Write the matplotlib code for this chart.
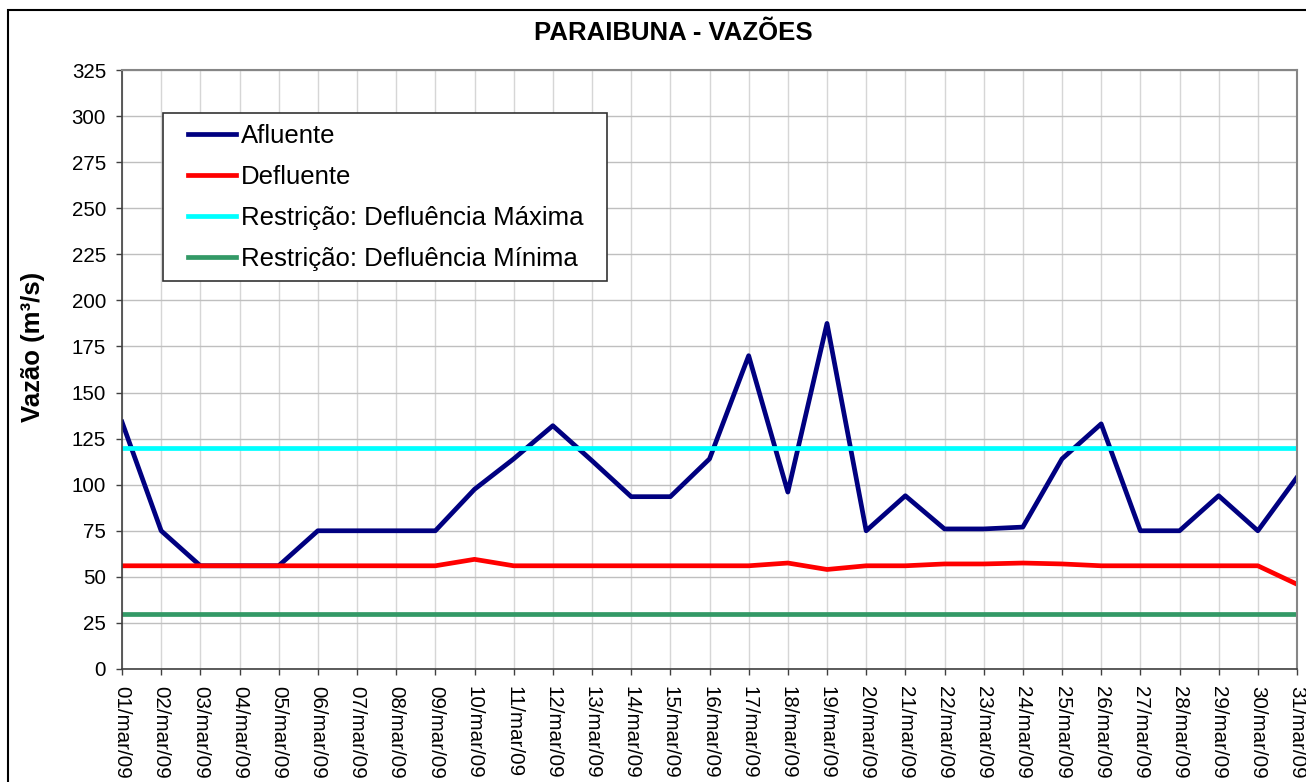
import matplotlib
matplotlib.use("Agg")
import matplotlib.pyplot as plt
from matplotlib.patches import Rectangle

plt.rcParams['font.family'] = ['Liberation Sans', 'DejaVu Sans']

dias = [f"{d:02d}/mar/09" for d in range(1, 32)]

afluente = [134, 75, 56, 56, 56, 75, 75, 75, 75, 97.5, 114, 132, 113, 93.5, 93.5, 114,
            170, 96, 187.5, 75, 94, 76, 76, 77, 114, 133, 75, 75, 94, 75, 104]
defluente = [56, 56, 56, 56, 56, 56, 56, 56, 56, 59.5, 56, 56, 56, 56, 56, 56,
             56, 57.5, 54, 56, 56, 57, 57, 57.5, 57, 56, 56, 56, 56, 56, 46]
defl_max = [120] * 31
defl_min = [30] * 31

W, H = 1306, 782
fig = plt.figure(figsize=(W / 100, H / 100), dpi=100)
ax = fig.add_axes([122 / W, 1 - 669 / H, (1297 - 122) / W, (669 - 70) / H])

x = list(range(len(dias)))
lw = 3.4
ax.plot(x, afluente, color='#000080', lw=lw, label='Afluente')
ax.plot(x, defluente, color='#ff0000', lw=lw, label='Defluente')
ax.plot(x, defl_max, color='#00ffff', lw=lw, label='Restrição: Defluência Máxima')
ax.plot(x, defl_min, color='#339966', lw=lw, label='Restrição: Defluência Mínima')

ax.set_xlim(0, 30)
ax.set_ylim(0, 325)
ax.set_yticks(range(0, 326, 25))
ax.set_xticks(x)
ax.set_xticklabels(dias, rotation=270, ha='center', va='top')

ax.yaxis.grid(True, color='#bfbfbf', lw=1.0)
ax.xaxis.grid(True, color='#d6d6d6', lw=1.0)
ax.set_axisbelow(True)

ax.tick_params(axis='y', direction='out', length=4, width=1, color='#404040', pad=7.5, labelsize=14.8)
ax.tick_params(axis='x', direction='out', length=4, width=1, color='#404040', pad=8, labelsize=14.8)

for s in ['left', 'bottom']:
    ax.spines[s].set_color('#404040')
    ax.spines[s].set_linewidth(1.2)
for s in ['top', 'right']:
    ax.spines[s].set_color('#868686')
    ax.spines[s].set_linewidth(1.5)

# legenda: moldura desenhada a parte, por baixo do texto
ax.add_patch(Rectangle((163 / W, 1 - 281 / H), (607 - 163) / W, (281 - 113) / H,
                       transform=fig.transFigure, fill=True, facecolor='white',
                       edgecolor='#333333', lw=1.2, zorder=4, clip_on=False))
leg = ax.legend(loc='upper left', bbox_to_anchor=(188 / W, 1 - 124 / H),
                bbox_transform=fig.transFigure, frameon=False, borderpad=0,
                borderaxespad=0, fontsize=18.5, handlelength=1.87,
                handletextpad=0.2, labelspacing=0.66)
leg.set_zorder(5)

fig.text(673 / W, 1 - 32.5 / H, 'PARAIBUNA - VAZÕES', ha='center', va='center',
         fontsize=18.5, fontweight='bold')
fig.text(33 / W, 1 - 347 / H, 'Vazão (m³/s)', ha='center', va='center',
         rotation=90, fontsize=18.5, fontweight='bold')

# moldura externa do grafico
fig.patches.append(Rectangle((8 / W, -0.5), 2, 1 - 10 / H + 0.5, transform=fig.transFigure,
                             fill=False, edgecolor='black', lw=1.5))

fig.savefig('out.png', dpi=100)
